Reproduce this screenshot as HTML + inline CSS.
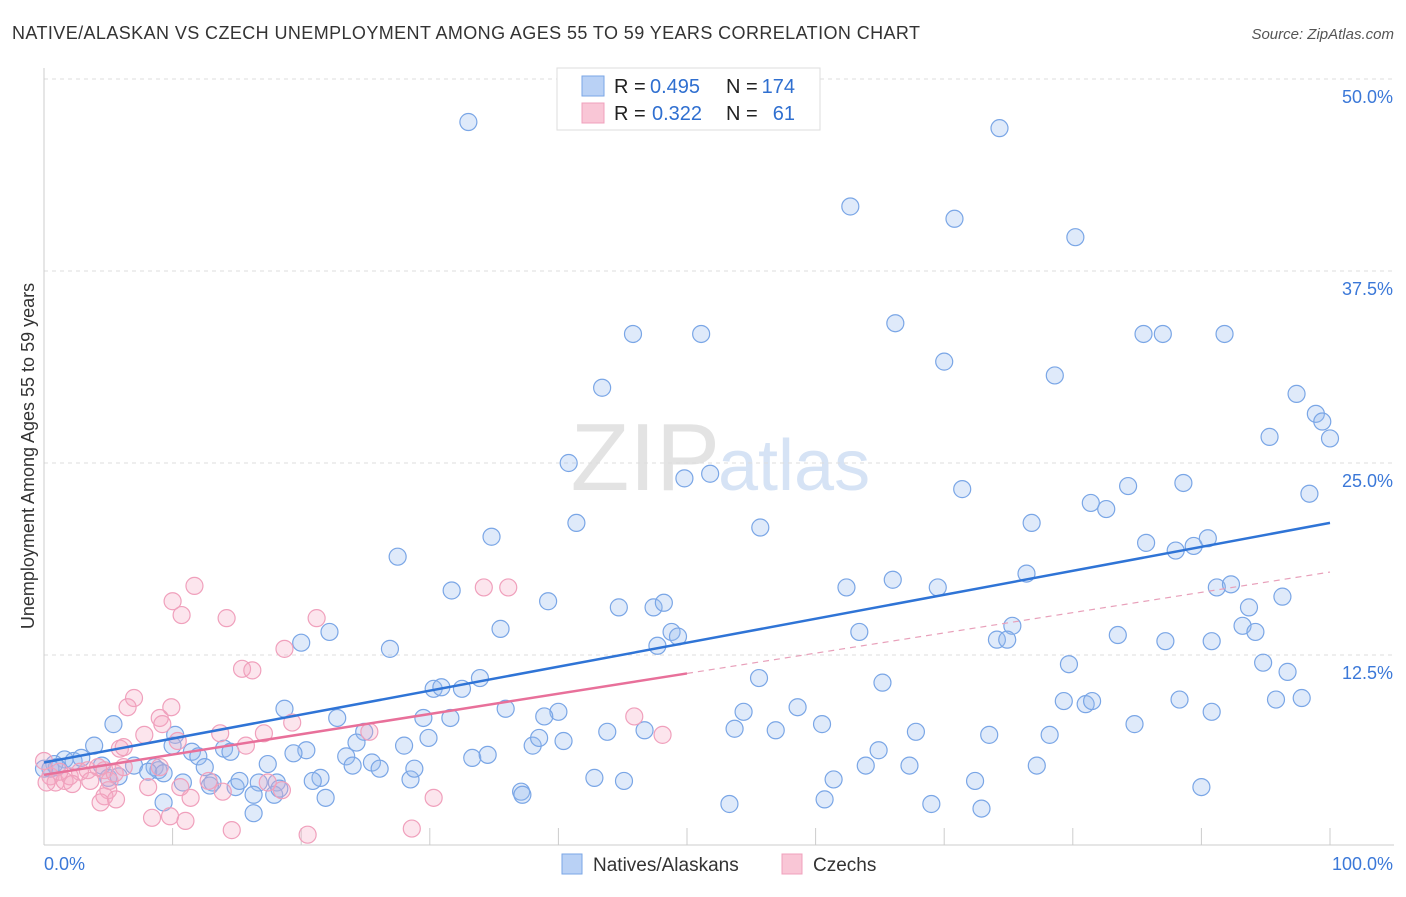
<!DOCTYPE html>
<html><head><meta charset="utf-8"><style>
body{margin:0;background:#fff;font-family:"Liberation Sans",sans-serif}
svg text{font-family:"Liberation Sans",sans-serif}
</style></head><body>
<svg id="chart" width="1406" height="892" xmlns="http://www.w3.org/2000/svg">
<text x="12" y="39" font-size="18" fill="#333" textLength="908">NATIVE/ALASKAN VS CZECH UNEMPLOYMENT AMONG AGES 55 TO 59 YEARS CORRELATION CHART</text>
<text x="1394" y="39" font-size="15" fill="#555" text-anchor="end" font-style="italic">Source: ZipAtlas.com</text>
<text x="720" y="490" font-size="96" fill="#e3e3e3" text-anchor="end" font-family="Liberation Serif">ZIP</text>
<text x="718" y="490" font-size="72" fill="#d6e3f5">atlas</text>
<g id="grid"></g><g id="ax"></g><g id="pts"></g><g id="reg"></g>
<text transform="translate(34,456) rotate(-90)" font-size="18" fill="#333" text-anchor="middle">Unemployment Among Ages 55 to 59 years</text>
<g>
<rect x="557" y="68" width="263" height="62" fill="#fff" stroke="#ddd"/>
<rect x="582" y="76" width="22" height="20" fill="#b9d1f5" stroke="#7aa6e6"/>
<rect x="582" y="103" width="22" height="20" fill="#f9c6d6" stroke="#f0a0bc"/>
<text x="614" y="93" font-size="20" fill="#222">R =</text>
<text x="650" y="93" font-size="20" fill="#2f6fd0">0.495</text>
<text x="726" y="93" font-size="20" fill="#222">N =</text>
<text x="795" y="93" font-size="20" fill="#2f6fd0" text-anchor="end">174</text>
<text x="614" y="120" font-size="20" fill="#222">R =</text>
<text x="652" y="120" font-size="20" fill="#2f6fd0">0.322</text>
<text x="726" y="120" font-size="20" fill="#222">N =</text>
<text x="795" y="120" font-size="20" fill="#2f6fd0" text-anchor="end">61</text>
</g>
<g>
<rect x="562" y="854" width="20" height="20" fill="#b9d1f5" stroke="#7aa6e6"/>
<text x="593" y="871" font-size="19" fill="#333">Natives/Alaskans</text>
<rect x="782" y="854" width="20" height="20" fill="#f9c6d6" stroke="#f0a0bc"/>
<text x="813" y="871" font-size="19" fill="#333">Czechs</text>
</g>
</svg>
<script>
const blueX=[33,74.3,59.5,62.7,70.8,80.2,45.8,51.1,66.2,70,85.5,87,91.8,43.4,78.6,97.4,98.9,99.4,95.3,100,40.8,51.8,71.4,84.3,88.6,98.4,49.8,41.4,55.7,76.8,81.4,82.6,34.8,85.7,88,89.4,90.5,27.5,76.4,66,91.2,92.3,31.7,62.4,69.5,96.3,39.2,44.7,47.4,48.2,93.7,75.3,35.5,22.2,48.8,49.3,63.4,83.5,93.2,94.2,47.7,74.1,74.9,87.2,90.8,20,26.9,79.7,94.8,96.7,33.9,30.3,30.9,32.5,55.6,65.2,79.3,81,81.5,88.3,95.8,97.8,18.7,35.9,40,22.8,38.9,29.5,31.6,54.4,58.6,60.5,84.8,90.8,5.4,24.9,10.2,53.7,56.9,43.8,46.7,67.8,73.5,78.2,3.9,10,14,28,29.9,24.3,38,38.5,40.4,20.4,19.4,23.5,11.5,1.6,2.3,2.9,0.8,25.5,24,26.1,12,14.5,33.3,34.5,64.9,67.3,77.2,4.5,7,8.6,8.9,17.4,12.5,8.1,9.3,0.5,1,5,5.8,10.8,13.1,14.9,15.2,16.7,18.1,21.5,28.5,28.8,42.8,45.1,61.4,63.9,72.4,90,37.1,17.9,18.3,12.9,16.3,21.9,9.3,37.2,53.3,60.7,69,72.9,16.3,20.9,0,0.3];
const blueY=[47.2,46.8,50,41.7,40.9,39.7,33.4,33.4,34.1,31.6,33.4,33.4,33.4,29.9,30.7,29.5,28.2,27.7,26.7,26.6,25,24.3,23.3,23.5,23.7,23,24,21.1,20.8,21.1,22.4,22,20.2,19.8,19.3,19.6,20.1,18.9,17.8,17.4,16.9,17.1,16.7,16.9,16.9,16.3,16,15.6,15.6,15.9,15.6,14.4,14.2,14,14,13.7,14,13.8,14.4,14,13.1,13.5,13.5,13.4,13.4,13.3,12.9,11.9,12,11.4,11,10.3,10.4,10.3,11,10.7,9.5,9.3,9.5,9.6,9.6,9.7,9,9,8.8,8.4,8.5,8.4,8.4,8.8,9.1,8,8,8.8,8,7.5,7.3,7.7,7.6,7.5,7.6,7.5,7.3,7.3,6.6,6.6,6.4,6.6,7.1,6.8,6.6,7.1,6.9,6.3,6.1,5.9,6.2,5.7,5.6,5.8,5.4,5.5,5.3,5.1,5.9,6.2,5.8,6,6.3,5.3,5.3,5.3,5.3,5.2,5,5.4,5.2,4.9,4.8,5.1,5.2,4.5,4.6,4.2,4.2,3.9,4.3,4.2,4.2,4.5,4.4,5.1,4.5,4.3,4.4,5.3,4.3,3.9,3.6,3.4,3.8,4,3.4,3.2,2.9,3.4,2.8,3.1,2.8,2.5,2.2,4.3,5.1];
const pinkX=[0,0.5,0.9,1.6,2,2.8,3.4,4.2,4.7,5.1,5.5,6.2,1.2,0.2,2.2,3.6,5.9,6.2,7,6.5,9,9.2,9.9,7.8,9,8.1,5,4.7,4.4,5.6,8.4,9.8,11,11.4,10.6,10.4,10,11.7,10.7,14.2,15.4,16.2,18.7,21.2,19.3,17.1,15.7,17.4,18.5,13.7,14.6,20.5,28.6,30.3,25.3,34.2,36.1,45.9,48.1,12.8,13.9];
const pinkY=[5.6,4.6,4.2,4.3,4.6,4.9,5,5.2,5,4.3,4.8,5.2,4.9,4.2,4.1,4.3,6.4,6.5,9.7,9.1,8.4,8,9.1,7.3,5.2,3.9,3.7,3.3,2.9,3.1,1.9,2,1.7,3.2,3.9,6.9,16,17,15.1,14.9,11.6,11.5,12.9,14.9,8.1,7.4,6.6,4.2,3.7,7.4,1.1,0.8,1.2,3.2,7.5,16.9,16.9,8.5,7.3,4.3,3.6];
const blueTrend=[5.5,21.1];
const pinkTrend=[4.7,17.9];
const yTicks=[12.5,25,37.5,50];
const yTickLabels=["12.5%","25.0%","37.5%","50.0%"];
const xTickLabels=["0.0%","100.0%"];
const X=v=>44+v*12.86, Y=v=>847-v*15.36;
const NS="http://www.w3.org/2000/svg";
function mk(t,a,p){const e=document.createElementNS(NS,t);for(const k in a)e.setAttribute(k,a[k]);p.appendChild(e);return e;}
const grid=document.getElementById('grid'),ax=document.getElementById('ax'),pts=document.getElementById('pts'),reg=document.getElementById('reg');
yTicks.forEach((v,i)=>{
 const l=mk('line',{x1:44,x2:1394,y1:Y(v),y2:Y(v),stroke:'#ddd','stroke-dasharray':'4,4'},grid);
 
 
 const t=mk('text',{x:1393,y:Y(v)+24,'font-size':18,fill:'#3b78d8','text-anchor':'end'},ax);
 t.textContent=yTickLabels[i];
 
 
});
const xa=mk('line',{x1:44,x2:1394,y1:845,y2:845,stroke:'#ccc'},ax);


const ya=mk('line',{x1:44,x2:44,y1:68,y2:845,stroke:'#ccc'},ax);


for(let i=1;i<=10;i++){const t=mk('line',{x1:X(i*10),x2:X(i*10),y1:828,y2:845,stroke:'#ccc'},ax);
 
 }
xTickLabels.forEach((s,i)=>{const t=mk('text',{x:i?1393:44,y:870,'font-size':18,fill:'#3b78d8','text-anchor':i?'end':'start'},ax);t.textContent=s;
 
 });
const nb=Math.min(blueX.length,blueY.length);
for(let i=0;i<nb;i++){const c=mk('circle',{cx:X(blueX[i]),cy:Y(blueY[i]),r:8.5,fill:'rgba(150,185,240,0.3)',stroke:'#7aa6e6','stroke-width':1.2},pts);
 
 }
const np=Math.min(pinkX.length,pinkY.length);
for(let i=0;i<np;i++){const c=mk('circle',{cx:X(pinkX[i]),cy:Y(pinkY[i]),r:8.5,fill:'rgba(245,170,195,0.3)',stroke:'#f0a0bc','stroke-width':1.2},pts);
 
 }
const pAt=x=>pinkTrend[0]+(pinkTrend[1]-pinkTrend[0])*x/100;
const bl=mk('line',{x1:X(0),y1:Y(blueTrend[0]),x2:X(100),y2:Y(blueTrend[1]),stroke:'#2f74d6','stroke-width':2.5},reg);


const pl=mk('line',{x1:X(0),y1:Y(pAt(0)),x2:X(50),y2:Y(pAt(50)),stroke:'#e8709a','stroke-width':2.5},reg);


const pd=mk('line',{x1:X(50),y1:Y(pAt(50)),x2:X(100),y2:Y(pAt(100)),stroke:'#e8a0ba','stroke-width':1.2,'stroke-dasharray':'6,5'},reg);


</script>
</body></html>
